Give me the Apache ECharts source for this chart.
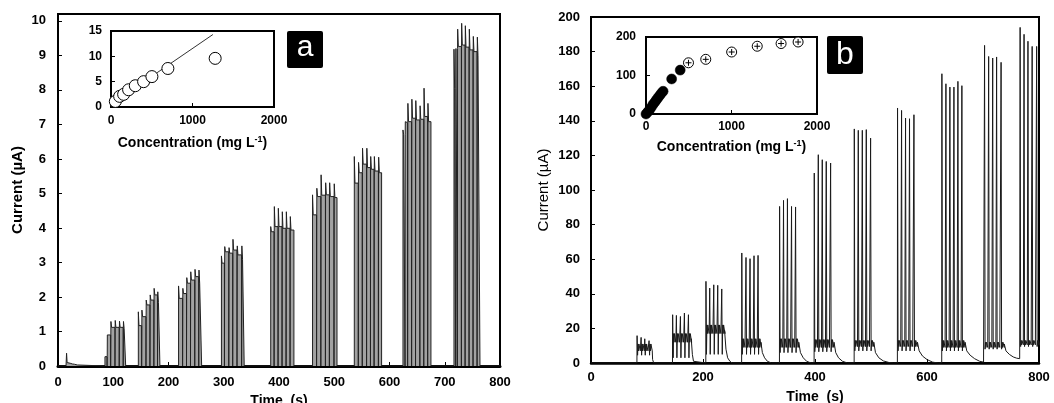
<!DOCTYPE html>
<html><head><meta charset="utf-8">
<script src="https://cdn.jsdelivr.net/npm/echarts@6/dist/echarts.min.js"></script>
<style>html,body{margin:0;padding:0;background:#fff}#c{width:1054px;height:403px}</style>
</head><body><div id="c"></div><script>
// ---------- Panel a: pulsed current trace (time s, current µA) ----------
const aBlipT = [14.5, 15.5, 16.5, 19, 22, 26, 30, 35, 36];
const aBlipV = [0, 0.37, 0.1, 0.12, 0.08, 0.06, 0.05, 0.03, 0];
const aSpikeT = [
  [85, 89.3, 95.8, 103.6, 111.3, 118.5],
  [145.4, 151.9, 159.7, 166.9, 174, 180.6],
  [218.2, 226, 233.1, 240.3, 248, 255.2],
  [295.8, 301.8, 309.6, 316.7, 324.5, 332.8],
  [385, 391.6, 398.8, 406, 413.3, 420.5],
  [460.7, 468.5, 476.2, 484.5, 491.7, 500],
  [536.3, 544, 551.2, 559, 566, 572.6, 580.4],
  [624.4, 628.6, 633.3, 640.5, 647.6, 655.4, 662.5, 669.6],
  [716.7, 720.3, 723.4, 730.6, 737.3, 744.5, 751.7, 759]
];
const aPeak = [
  [0.27, 0.9, 1.29, 1.32, 1.3, 1.29],
  [1.57, 1.62, 1.91, 2.06, 2.25, 2.15],
  [2.32, 2.25, 2.56, 2.73, 2.8, 2.78],
  [3.19, 3.46, 3.43, 3.67, 3.48, 3.48],
  [4.04, 4.62, 4.57, 4.47, 4.47, 4.33],
  [4.96, 5.15, 5.54, 5.31, 5.31, 5.28],
  [6.07, 5.9, 6.31, 6.31, 6.07, 6.07, 6.05],
  [6.84, 7.08, 7.61, 7.73, 7.69, 7.54, 8.05, 7.61],
  [9.18, 9.2, 9.76, 9.93, 9.86, 9.76, 9.55, 9.53]
];
const aPlat = [
  [0.27, 0.9, 1.12, 1.12, 1.12, 1.09],
  [1.17, 1.43, 1.77, 1.91, 2.06, 1.84],
  [1.96, 2.1, 2.4, 2.49, 2.59, 2.4],
  [2.98, 3.31, 3.27, 3.36, 3.22, 3.09],
  [3.89, 4.04, 4.04, 3.99, 3.99, 3.94],
  [4.38, 4.91, 4.95, 4.96, 4.91, 4.88],
  [5.3, 5.6, 5.85, 5.75, 5.7, 5.65, 5.6],
  [6.7, 7.05, 7.08, 7.18, 7.13, 7.15, 7.23, 7.08],
  [8.05, 9.2, 9.26, 9.3, 9.24, 9.16, 9.11, 8.99]
];
const aEnd = [122.5, 184.5, 260, 337, 427, 505, 585.7, 675, 763.8];

// ---------- Panel b: spike trace ----------
const bSpikeT = [
  [82, 89.2, 95.7, 103.4],
  [145.5, 152.2, 159.4, 166.5, 173.7],
  [205, 211.7, 218.9, 226, 233.2],
  [269, 276.5, 283.7, 290.8, 298],
  [336.5, 343.5, 350.5, 357.8, 365],
  [398.4, 405.6, 412.7, 419.8, 427.6],
  [469.9, 477, 484.2, 491.3, 499],
  [547.1, 554.3, 561.4, 568.5, 576.4],
  [626.3, 633.5, 640.6, 647.8, 654.9, 662],
  [702.5, 709.8, 717, 724, 732],
  [766, 773, 780, 787.5, 795.5]
];
const bPeak = [
  [15.8, 14.8, 14, 12.9],
  [27.9, 27.5, 26.9, 28.9, 27.9],
  [47.2, 43.3, 45.2, 44.9, 42.8],
  [63.6, 61, 60.3, 62, 62.2],
  [90.5, 94, 95, 90.5, 90.2],
  [109.8, 120.4, 117.5, 116.5, 115.6],
  [135.3, 134.5, 134.5, 134.9, 130],
  [147.4, 146, 141.6, 141.2, 143.5],
  [167.2, 161.4, 159.5, 159.5, 162.8, 160.3],
  [183.6, 177.2, 176.3, 176.9, 173.8],
  [194, 190, 186, 183, 183]
];
const bHi = [11, 17, 22, 14, 14, 13.5, 13, 13, 13, 12, 13];
const bMid = [7, 12, 17, 9, 9, 9, 9.5, 9.5, 9, 9, 10.5];
const bLow = [4.5, 3, 5, 5, 6, 6.5, 7, 7, 7, 8, 9.5];
const bTailT = [
  [108.8, 110, 112],
  [179, 181, 183, 185],
  [238.5, 241, 244, 248, 252],
  [303.5, 306, 310, 315, 322],
  [371, 374, 379, 385, 393],
  [434, 437, 442, 449, 458],
  [505, 508, 514, 522, 532, 540],
  [583, 586, 592, 600, 610, 620],
  [668, 671, 677, 685, 694, 701],
  [738, 741, 747, 754, 760, 765.5]
];
const bTailV = [
  [8, 2, 0],
  [14, 5, 1, 0],
  [19, 8, 3, 1, 0],
  [12, 6, 3, 1, 0],
  [12, 6, 3, 1, 0],
  [12, 6, 3, 1, 0],
  [12, 6, 3, 1.2, 0.3, 0],
  [12, 7, 4, 2, 0.5, 0],
  [12, 7, 4.5, 2.5, 1, 0.5],
  [11, 7, 5, 3.5, 2.8, 2.5]
];

// ---------- Insets ----------
const insetAConc = [53, 106, 155, 216, 298, 400, 502, 698, 1278];
const insetACurr = [1.1, 2.1, 2.5, 3.4, 4.2, 5.0, 6.0, 7.6, 9.6];
const fitAConc = [0, 1250];
const fitACurr = [0.55, 14.3];
const insetBLinConc = [0, 20, 40, 60, 80, 100, 120, 140, 160, 180, 200, 300, 400];
const insetBLinCurr = [0, 5, 10, 17, 24, 30, 36, 42, 48, 54, 59, 91, 114];
const insetBSatConc = [497, 699, 1002, 1301, 1580, 1779];
const insetBSatCurr = [133, 142, 161, 176, 183, 187];

// ---------- build traces ----------
const aData = [[0, 0]];
aBlipT.forEach((t, i) => aData.push([t, aBlipV[i]]));
aSpikeT.forEach((ts, g) => {
  let prev = 0;
  ts.forEach((t, i) => {
    if (i === 0) {
      aData.push([t, 0]);
    } else {
      aData.push([t - 0.5, prev]);
      aData.push([t - 0.5, 0]);
      aData.push([t - 0.2, 0]);
      aData.push([t - 0.2, prev]);
    }
    aData.push([t, aPeak[g][i]]);
    aData.push([t + 1.2, aPlat[g][i]]);
    prev = aPlat[g][i];
  });
  aData.push([aEnd[g], prev]);
  aData.push([aEnd[g], 0]);
});
aData.push([800, 0]);

const bData = [[0, 0]];
bSpikeT.forEach((ts, g) => {
  ts.forEach((t, i) => {
    bData.push([t, bData[bData.length - 1][1]]);
    bData.push([t + 0.3, bPeak[g][i]]);
    bData.push([t + 1.2, bLow[g]]);
    bData.push([t + 2.0, bHi[g]]);
    bData.push([t + 2.8, bMid[g]]);
    bData.push([t + 3.6, bHi[g]]);
    bData.push([t + 6.0, bMid[g]]);
  });
  if (bTailT[g]) bTailT[g].forEach((t, k) => bData.push([t, bTailV[g][k]]));
  else bData.push([800, bMid[g]]);
});

const FONT = 'Liberation Sans, Arial, sans-serif';
const lab = (sz, m) => ({ fontFamily: FONT, fontSize: sz, fontWeight: 'bold', color: '#000', margin: m, formatter: v => String(v) });
function axisBase(gi, min, max, interval, sz, m, lw) {
  return {
    gridIndex: gi, type: 'value', min: min, max: max, interval: interval,
    axisLine: { show: true, onZero: false, lineStyle: { color: '#000', width: lw } },
    axisTick: { show: true, inside: true, length: 4, lineStyle: { color: '#000', width: 1 } },
    axisLabel: Object.assign(lab(sz, m), { showMaxLabel: true }),
    splitLine: { show: false }
  };
}
const supRich = { s: { fontFamily: FONT, fontSize: 9, fontWeight: 'bold', color: '#000', padding: [0, 0, 8, 0] } };
const concName = 'Concentration (mg L{s|-1})';

const xa0 = Object.assign(axisBase(0, 0, 800, 100, 13, 10, 3), {
  name: 'Time  (s)', nameLocation: 'middle', nameGap: 22,
  nameTextStyle: { fontFamily: FONT, fontSize: 14, fontWeight: 'bold', color: '#000' }
});
const ya0 = Object.assign(axisBase(0, 0, 10.2, 1, 13, 12, 2), {
  name: 'Current (µA)', nameLocation: 'middle', nameGap: 33, nameRotate: 90,
  nameTextStyle: { fontFamily: FONT, fontSize: 15, fontWeight: 'bold', color: '#000' }
});
ya0.axisLabel.showMaxLabel = false;
const xa1 = Object.assign(axisBase(1, 0, 2000, 1000, 12, 8, 2), {
  name: concName, nameLocation: 'middle', nameGap: 28,
  nameTextStyle: { fontFamily: FONT, fontSize: 14, fontWeight: 'bold', color: '#000', rich: supRich }
});
const ya1 = axisBase(1, 0, 15, 5, 12, 9, 2);
const xa2 = Object.assign(axisBase(2, 0, 800, 200, 13, 8, 2.5), {
  name: 'Time  (s)', nameLocation: 'middle', nameGap: 27,
  nameTextStyle: { fontFamily: FONT, fontSize: 14, fontWeight: 'bold', color: '#000' }
});
const ya2 = Object.assign(axisBase(2, 0, 200, 20, 13, 11, 2), {
  name: 'Current (µA)', nameLocation: 'middle', nameGap: 40, nameRotate: 90,
  nameTextStyle: { fontFamily: FONT, fontSize: 15, fontWeight: 'normal', color: '#000' }
});
const xa3 = Object.assign(axisBase(3, 0, 2000, 1000, 12, 7, 2), {
  name: concName, nameLocation: 'middle', nameGap: 25,
  nameTextStyle: { fontFamily: FONT, fontSize: 14, fontWeight: 'bold', color: '#000', rich: supRich }
});
const ya3 = axisBase(3, 0, 200, 100, 12, 10, 2);

const gridStyle = { show: true, borderColor: '#000', borderWidth: 2, backgroundColor: '#fff', containLabel: false, outerBoundsMode: 'none' };

const chart = echarts.init(document.getElementById('c'), null, { renderer: 'canvas' });
chart.setOption({
  animation: false,
  backgroundColor: '#fff',
  grid: [
    Object.assign({ left: 58, top: 14, width: 442, height: 352 }, gridStyle),
    Object.assign({ left: 111, top: 31, width: 163, height: 76 }, gridStyle),
    Object.assign({ left: 591, top: 17, width: 448, height: 346 }, gridStyle),
    Object.assign({ left: 646, top: 37, width: 171, height: 77 }, gridStyle)
  ],
  xAxis: [xa0, xa1, xa2, xa3],
  yAxis: [ya0, ya1, ya2, ya3],
  series: [
    {
      type: 'line', xAxisIndex: 0, yAxisIndex: 0, data: aData, symbol: 'none', sampling: null,
      lineStyle: { color: '#222', width: 1 }, areaStyle: { color: '#a2a2a2', opacity: 1 }, z: 3
    },
    {
      type: 'line', xAxisIndex: 1, yAxisIndex: 1, data: fitAConc.map((c, i) => [c, fitACurr[i]]),
      symbol: 'none', lineStyle: { color: '#333', width: 1 }, z: 3
    },
    {
      type: 'scatter', xAxisIndex: 1, yAxisIndex: 1, data: insetAConc.map((c, i) => [c, insetACurr[i]]),
      symbol: 'circle', symbolSize: 12, itemStyle: { color: '#fff', borderColor: '#000', borderWidth: 1, opacity: 1 }, z: 4
    },
    {
      type: 'line', xAxisIndex: 2, yAxisIndex: 2, data: bData, symbol: 'none', sampling: null,
      lineStyle: { color: '#1a1a1a', width: 1 }, z: 3
    },
    {
      type: 'scatter', xAxisIndex: 3, yAxisIndex: 3, data: insetBLinConc.map((c, i) => [c, insetBLinCurr[i]]),
      symbol: 'circle', symbolSize: 10, itemStyle: { color: '#000', borderColor: '#000', borderWidth: 0.5, opacity: 1 }, z: 4
    },
    {
      type: 'scatter', xAxisIndex: 3, yAxisIndex: 3, data: insetBSatConc.map((c, i) => [c, insetBSatCurr[i]]),
      symbol: 'circle', symbolSize: 10, itemStyle: { color: '#fff', borderColor: '#000', borderWidth: 1, opacity: 1 }, z: 4
    },
    {
      type: 'scatter', xAxisIndex: 3, yAxisIndex: 3, data: insetBSatConc.map((c, i) => [c, insetBSatCurr[i]]),
      symbol: 'path://M5,0L5,10M0,5L10,5', symbolSize: 6,
      itemStyle: { color: 'none', borderColor: '#000', borderWidth: 1, opacity: 1 }, z: 5
    }
  ],
  graphic: [
    { type: 'rect', left: 287, top: 31, shape: { width: 36, height: 37, r: 2 }, style: { fill: '#000' }, z: 10 },
    { type: 'text', x: 305, y: 48, style: { text: 'a', fill: '#fff', fontSize: 30, fontFamily: FONT, align: 'center', verticalAlign: 'middle' }, z: 11 },
    { type: 'rect', left: 827, top: 36, shape: { width: 36, height: 38, r: 2 }, style: { fill: '#000' }, z: 10 },
    { type: 'text', x: 845, y: 55, style: { text: 'b', fill: '#fff', fontSize: 32, fontFamily: FONT, align: 'center', verticalAlign: 'middle' }, z: 11 }
  ]
});
</script></body></html>
